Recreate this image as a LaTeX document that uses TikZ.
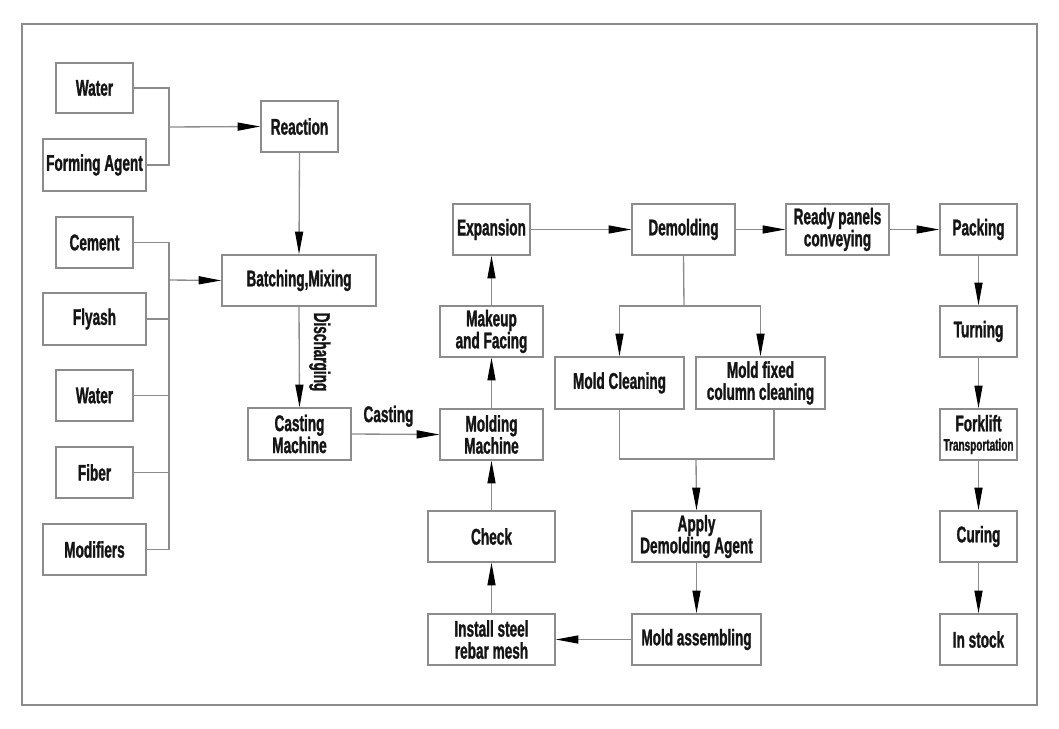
\documentclass[tikz,border=0pt]{standalone}
\usepackage{fontspec}
\setmainfont{Liberation Sans}[FakeStretch=0.6, FakeBold=1.2]
\usetikzlibrary{arrows.meta}
\definecolor{linegray}{HTML}{8C8C8C}
\definecolor{txt}{HTML}{151515}
\newcommand{\bx}[6]{\node[box, minimum width={(#4-#2)*0.75pt}, minimum height={(#5-#3)*0.75pt}] (#1) at ({(#2+#4)/2},{(#3+#5)/2}) {#6};}
\begin{document}
\begin{tikzpicture}[x=0.75pt,y=-0.75pt,
  box/.style={draw=linegray, line width=1pt, fill=white, inner sep=0pt, align=center, text=txt,
    font=\bfseries\fontsize{17}{16.5}\selectfont},
  conn/.style={draw=linegray, line width=1pt},
  arr/.style={conn, -{Triangle[length=17pt,width=6pt,color=black]}},
  lbl/.style={text=txt, font=\bfseries\fontsize{17}{16.5}\selectfont}]
\useasboundingbox (0,0) rectangle (1059,728);
\draw[conn] (22,24) rectangle (1037,705);
% left column
\bx{w1}{56}{63}{133}{113}{Water}
\bx{fa}{43}{139}{146}{191}{Forming Agent}
\bx{cem}{56}{217}{133}{268}{Cement}
\bx{fly}{43}{293}{146}{345}{Flyash}
\bx{w2}{56}{370}{133}{421}{Water}
\bx{fib}{56}{447}{133}{498}{Fiber}
\bx{mod}{43}{524}{146}{575}{Modifiers}
\bx{rea}{261}{101}{338}{152}{Reaction}
\bx{bat}{222}{255}{376}{306}{Batching,Mixing}
\bx{cast}{248}{408}{351}{460}{Casting\\Machine}
% middle
\bx{exp}{453}{204}{530}{255}{Expansion}
\bx{mak}{440}{306}{543}{357}{Makeup\\and Facing}
\bx{mold}{440}{409}{543}{460}{Molding\\Machine}
\bx{chk}{428}{511}{555}{562}{Check}
\bx{inst}{428}{614}{555}{665}{Install steel\\rebar mesh}
\bx{dem}{632}{204}{735}{255}{Demolding}
\bx{mcl}{555}{357}{684}{409}{Mold Cleaning}
\bx{mfx}{696}{357}{825}{409}{Mold fixed\\column cleaning}
\bx{app}{632}{511}{761}{562}{Apply\\Demolding Agent}
\bx{mas}{632}{614}{761}{665}{Mold assembling}
% right
\bx{rdy}{786}{204}{889}{255}{Ready panels\\conveying}
\bx{pck}{940}{204}{1017}{255}{Packing}
\bx{trn}{940}{306}{1017}{357}{Turning}
\bx{frk}{940}{409}{1017}{460}{Forklift\\[-2pt]{\fontsize{12.5}{12}\selectfont Transportation}}
\bx{cur}{940}{511}{1017}{562}{Curing}
\bx{stk}{940}{614}{1017}{665}{In stock}
% junction coordinates
\coordinate (j1) at (169,127);
\coordinate (j2) at (169,280);
\coordinate (d1) at (684,306);
\coordinate (m1) at (696,459);
\coordinate (mf) at (774,409);
% connectors
\draw[conn] (w1.east) -| (j1) |- (fa.east);
\draw[arr] (j1) -- (rea.west);
\draw[arr] (rea.south) -- (bat.north);
\draw[conn] (cem.east) -- (cem.east -| j2) -- (mod.east -| j2) -- (mod.east);
\draw[conn] (fly.east) -- (fly.east -| j2);
\draw[conn] (w2.east) -- (w2.east -| j2);
\draw[conn] (fib.east) -- (fib.east -| j2);
\draw[arr] (j2) -- (bat.west);
\draw[arr] (bat.south) -- (cast.north) node[lbl, pos=0.45, anchor=south, rotate=-90, inner sep=7pt] {Discharging};
\draw[arr] (cast.east) -- (mold.west) node[lbl, pos=0.42, above, inner sep=5pt] {Casting};
\draw[arr] (mold.north) -- (mak.south);
\draw[arr] (mak.north) -- (exp.south);
\draw[arr] (exp.east) -- (dem.west);
\draw[arr] (dem.east) -- (rdy.west);
\draw[arr] (rdy.east) -- (pck.west);
\draw[conn] (dem.south) -- (d1);
\draw[arr] (d1) -| (mcl.north);
\draw[arr] (d1) -| (mfx.north);
\draw[conn] (mcl.south) |- (m1) -| (mf);
\draw[arr] (m1) -- (app.north);
\draw[arr] (app.south) -- (mas.north);
\draw[arr] (mas.west) -- (inst.east);
\draw[arr] (inst.north) -- (chk.south);
\draw[arr] (chk.north) -- (mold.south);
\draw[arr] (pck.south) -- (trn.north);
\draw[arr] (trn.south) -- (frk.north);
\draw[arr] (frk.south) -- (cur.north);
\draw[arr] (cur.south) -- (stk.north);
\end{tikzpicture}
\end{document}
